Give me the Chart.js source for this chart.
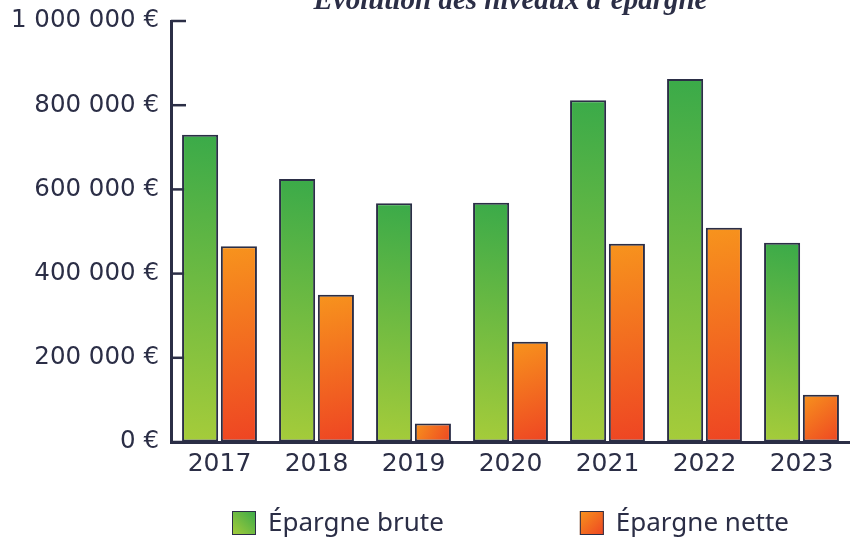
<!DOCTYPE html>
<html lang="fr">
<head>
<meta charset="utf-8">
<script src="https://cdn.jsdelivr.net/npm/chart.js@4.4.1/dist/chart.umd.min.js"></script>
<style>
  html, body { margin: 0; padding: 0; background: #fff; }
  #wrap { width: 850px; height: 539px; }
</style>
</head>
<body>
<div id="wrap"><canvas id="barChart"></canvas></div>
<script>
// data
var years = ["2017", "2018", "2019", "2020", "2021", "2022", "2023"];
var epargneBrute = [730000, 625000, 567000, 568000, 812000, 862000, 473000];
var epargneNette = [465000, 350000, 44000, 238000, 471000, 509000, 112000];
var yTicks = [0, 200000, 400000, 600000, 800000, 1000000];
var seriesNames = ["Épargne brute", "Épargne nette"];
var titre = "Évolution des niveaux d’épargne";

var navy = '#2b2e46';
var greenStops = ['#3aaa49', '#a6cc3a'];   // top-right -> bottom-left
var orangeStops = ['#f7941d', '#ee4423'];  // top-left -> bottom-right

function euros(v) {
  return String(v).replace(/\B(?=(\d{3})+(?!\d))/g, ' ') + ' €';
}

// diagonal gradient for each bar, placed with the chart's own scales
function barFill(c) {
  var chart = c.chart;
  if (c.type !== 'data' || !chart.chartArea) return c.datasetIndex === 0 ? greenStops[0] : orangeStops[0];
  var xs = chart.scales.x, ys = chart.scales.y;
  var cat = xs.width / years.length;
  var half = cat * 0.8 / 4;
  var xc = xs.getPixelForValue(c.dataIndex) + (c.datasetIndex === 0 ? -half : half);
  var top = ys.getPixelForValue(c.raw);
  var bottom = ys.getPixelForValue(0);
  var g;
  if (c.datasetIndex === 0) {
    g = chart.ctx.createLinearGradient(xc + half, top, xc - half, bottom);
    g.addColorStop(0, greenStops[0]);
    g.addColorStop(1, greenStops[1]);
  } else {
    g = chart.ctx.createLinearGradient(xc - half, top, xc + half, bottom);
    g.addColorStop(0, orangeStops[0]);
    g.addColorStop(1, orangeStops[1]);
  }
  return g;
}

// short tick marks on the inside of the y axis
var innerTicks = {
  id: 'innerTicks',
  beforeDatasetsDraw: function (chart) {
    var ctx = chart.ctx, y = chart.scales.y, left = chart.chartArea.left;
    ctx.save();
    ctx.strokeStyle = navy;
    ctx.lineWidth = 2.5;
    y.ticks.forEach(function (t) {
      var py = y.getPixelForValue(t.value);
      ctx.beginPath();
      ctx.moveTo(left, py);
      ctx.lineTo(left + 15, py);
      ctx.stroke();
    });
    ctx.restore();
  }
};

// title (cut at the top, as in the original) + legend under the chart
var extras = {
  id: 'extras',
  afterDraw: function (chart) {
    var ctx = chart.ctx, area = chart.chartArea;
    var cx = (area.left + area.right) / 2;
    ctx.save();
    ctx.fillStyle = navy;
    ctx.textAlign = 'center';
    ctx.textBaseline = 'alphabetic';
    ctx.font = 'italic bold 29px "Liberation Serif"';
    ctx.fillText(titre, cx, 9);

    // legend
    ctx.font = '26px "Noto Sans"';
    ctx.textAlign = 'left';
    ctx.textBaseline = 'middle';
    var box = 24, gapText = 12, gapItem = 136, ly = 523;
    var w0 = ctx.measureText(seriesNames[0]).width;
    var w1 = ctx.measureText(seriesNames[1]).width;
    var total = box + gapText + w0 + gapItem + box + gapText + w1;
    var x = cx - total / 2;
    [[greenStops, w0, true], [orangeStops, w1, false]].forEach(function (it, i) {
      var g = it[2] ? ctx.createLinearGradient(x + box, ly - box / 2, x, ly + box / 2)
                    : ctx.createLinearGradient(x, ly - box / 2, x + box, ly + box / 2);
      g.addColorStop(0, it[0][0]);
      g.addColorStop(1, it[0][1]);
      ctx.fillStyle = g;
      ctx.fillRect(x, ly - box / 2, box, box);
      ctx.strokeStyle = navy;
      ctx.lineWidth = 1;
      ctx.strokeRect(x + 0.5, ly - box / 2 + 0.5, box - 1, box - 1);
      ctx.fillStyle = navy;
      ctx.fillText(seriesNames[i], x + box + gapText, ly + 1);
      x += box + gapText + it[1] + gapItem;
    });
    ctx.restore();
  }
};

var ctxB = document.getElementById("barChart").getContext('2d');
var myBarChart = new Chart(ctxB, {
  type: 'bar',
  data: {
    labels: years,
    datasets: [{
      label: seriesNames[0],
      data: epargneBrute,
      backgroundColor: barFill,
      borderColor: navy,
      borderWidth: 2,
      borderSkipped: false
    },
    {
      label: seriesNames[1],
      data: epargneNette,
      backgroundColor: barFill,
      borderColor: navy,
      borderWidth: 2,
      borderSkipped: false
    }]
  },
  options: {
    responsive: true,
    maintainAspectRatio: false,
    animation: false,
    datasets: {
      bar: { categoryPercentage: 0.8, barPercentage: 0.93 }
    },
    layout: { padding: { top: 21, right: 0, bottom: 0, left: 0 } },
    plugins: {
      legend: { display: false },
      title: { display: false },
      tooltip: { enabled: false }
    },
    scales: {
      x: {
        grid: { display: true, drawOnChartArea: false, drawTicks: false },
        border: { color: navy, width: 3 },
        ticks: { color: navy, font: { family: 'DejaVu Sans', size: 25 }, padding: 7 },
        afterFit: function (s) { s.height = 97; }
      },
      y: {
        min: 0,
        max: 1000000,
        grid: { display: true, drawOnChartArea: false, drawTicks: false },
        border: { color: navy, width: 3 },
        afterBuildTicks: function (s) { s.ticks = yTicks.map(function (v) { return { value: v }; }); },
        ticks: {
          color: navy,
          font: { family: 'DejaVu Sans', size: 24.5 },
          padding: 12,
          callback: function (v) { return euros(v); }
        },
        afterFit: function (s) { s.width = 171; s.paddingTop = 8; s.paddingBottom = 8; }
      }
    }
  },
  plugins: [innerTicks, extras]
});
</script>
</body>
</html>
